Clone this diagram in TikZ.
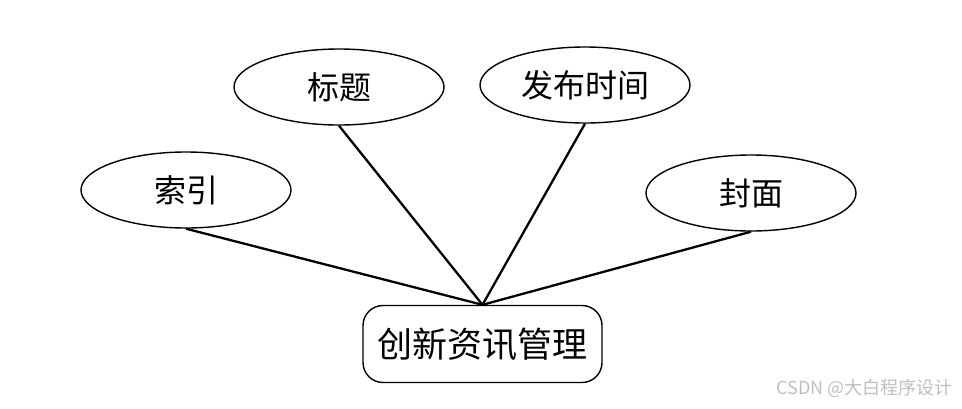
\documentclass[tikz,border=0pt]{standalone}
\usepackage{fontspec}
\newfontfamily\cjk{Noto Sans CJK SC}
\usetikzlibrary{shapes.geometric}
\tikzset{
  attr/.style={draw,ellipse,line width=1.4pt,minimum width=210pt,minimum height=76pt,inner sep=0pt,font=\cjk\fontsize{32}{32}\selectfont},
  entity/.style={draw,rounded corners=20pt,line width=1.4pt,minimum width=239pt,minimum height=77pt,inner sep=0pt,font=\cjk\fontsize{35}{35}\selectfont},
}
\begin{document}
\begin{tikzpicture}[x=1pt,y=-1pt]
    \useasboundingbox (0,0) rectangle (962,408);
    \node[entity] (M) at (482.5,344) {创新资讯管理};
    \node[attr] (A) at (186,190) {索引};
    \node[attr] (B) at (339,87) {标题};
    \node[attr] (C) at (585,85) {发布时间};
    \node[attr] (D) at (751,193) {封面};
    \node[anchor=east,text=black!25,font=\cjk\fontsize{18}{18}\selectfont] (W) at (956,388) {CSDN @大白程序设计};
    \begin{scope}[line width=2.3pt]
      \draw (A.south) -- (M.north);
      \draw (B.south) -- (M.north);
      \draw (C.south) -- (M.north);
      \draw (D.south) -- (M.north);
    \end{scope}
  \end{tikzpicture}
\end{document}
